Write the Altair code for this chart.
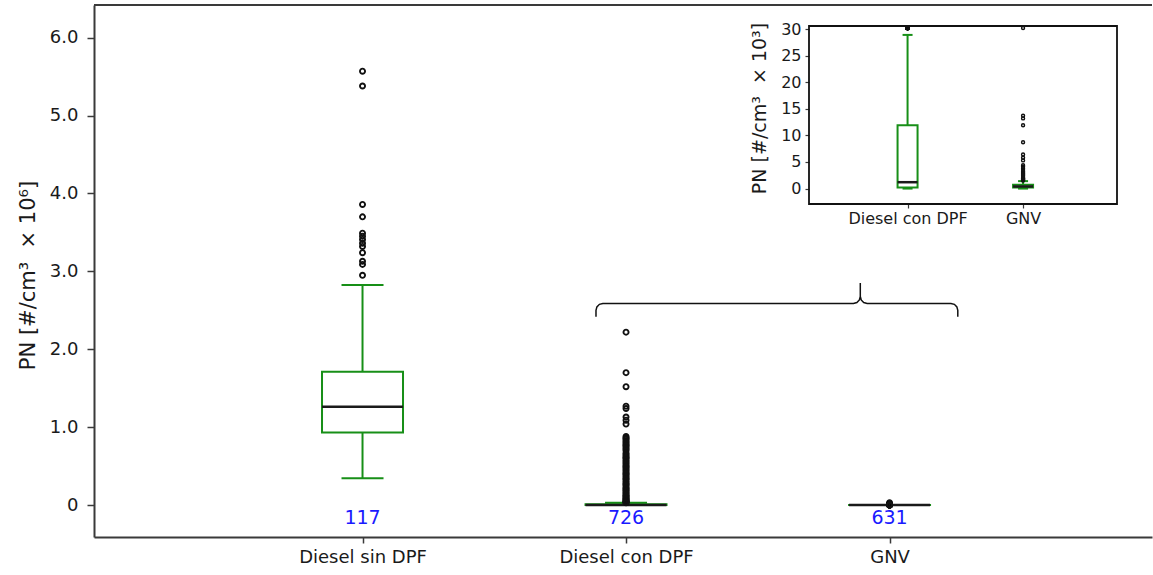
import altair as alt
import pandas as pd

FONT = "DejaVu Sans"
GREEN = "#178f17"
INK = "#1a1a1a"
SPINE = "#3a3a3a"
BLUE = "#1a1aff"

# ---------------------------------------------------------------- data
categories = ["Diesel sin DPF", "Diesel con DPF", "GNV"]
positions = [1, 2, 3]
sample_counts = ["117", "726", "631"]

# box-plot summaries, PN in 10^6 #/cm3
whisker_low = [0.343, 0.0, 0.0]
quartile_1 = [0.933, 0.0002, 0.0002]
medians = [1.262, 0.0012, 0.0004]
quartile_3 = [1.711, 0.0119, 0.0007]
whisker_high = [2.824, 0.0289, 0.0014]

# outliers, PN in 10^6 #/cm3
outliers_sin_dpf = [5.57, 5.38, 3.86, 3.70, 3.49, 3.45, 3.41, 3.36, 3.32,
                    3.24, 3.13, 3.09, 2.95]
outliers_con_dpf = [2.22, 1.70, 1.52, 1.27, 1.24, 1.13, 1.09, 1.04,
                    0.88, 0.86, 0.85, 0.83, 0.81, 0.79, 0.77, 0.76, 0.74,
                    0.72, 0.70, 0.67, 0.65, 0.63, 0.61, 0.60, 0.58, 0.56,
                    0.54, 0.52, 0.50, 0.49, 0.47, 0.45, 0.43, 0.41, 0.40,
                    0.38, 0.36, 0.34, 0.33, 0.31, 0.29, 0.27, 0.26, 0.24,
                    0.22, 0.21, 0.19, 0.18, 0.16, 0.15, 0.13, 0.12, 0.11,
                    0.095, 0.085, 0.075, 0.065, 0.055, 0.048, 0.042, 0.037,
                    0.033, 0.0304]
# outliers, PN in 10^3 #/cm3
outliers_gnv = [30.4, 13.7, 13.2, 11.9, 8.7, 6.4, 5.8, 5.3, 4.4, 4.1, 3.8,
                3.5, 3.2, 3.0, 2.8, 2.6, 2.4, 2.2, 2.0, 1.9, 1.8, 1.7, 1.6,
                1.5]

# curly bracket grouping the two low-emission categories (main-axis units)
brace_x = [1.886, 1.886, 1.8895, 1.899, 1.912, 2.863, 2.876, 2.8855, 2.889,
           2.889, 2.889, 2.8925, 2.902, 2.915, 3.233, 3.246, 3.2555, 3.259,
           3.259]
brace_y = [2.417, 2.500, 2.5445, 2.577, 2.589, 2.589, 2.601, 2.6335, 2.678,
           2.850, 2.678, 2.6335, 2.601, 2.589, 2.589, 2.577, 2.5445, 2.500,
           2.417]

# ---------------------------------------------------------------- tables
box_main = pd.DataFrame({
    "pos": positions, "cat": categories, "n": sample_counts,
    "lo": whisker_low, "q1": quartile_1, "med": medians,
    "q3": quartile_3, "hi": whisker_high,
})
fliers_main = pd.DataFrame({
    "pos": [1] * len(outliers_sin_dpf) + [2] * len(outliers_con_dpf)
           + [3] * len(outliers_gnv),
    "v": outliers_sin_dpf + outliers_con_dpf + [g / 1000 for g in outliers_gnv],
})
brace_df = pd.DataFrame({"i": list(range(len(brace_x))), "bx": brace_x, "by": brace_y})

# zoomed panel in 10^3 #/cm3 for the two filtered categories
inset_categories = categories[1:]
inset_positions = [1, 2]
box_inset = pd.DataFrame({
    "pos": inset_positions, "cat": inset_categories,
    "lo": [v * 1000 for v in whisker_low[1:]],
    "q1": [v * 1000 for v in quartile_1[1:]],
    "med": [v * 1000 for v in medians[1:]],
    "q3": [v * 1000 for v in quartile_3[1:]],
    "hi": [v * 1000 for v in whisker_high[1:]],
})
fliers_inset = pd.DataFrame({
    "pos": [1] * len(outliers_con_dpf) + [2] * len(outliers_gnv),
    "v": [v * 1000 for v in outliers_con_dpf] + outliers_gnv,
})
one_row = pd.DataFrame({"k": [0]})


def label_expr(pos, names):
    expr = "'" + names[-1] + "'"
    for p, c in reversed(list(zip(pos[:-1], names[:-1]))):
        expr = f"datum.value == {p} ? '{c}' : " + expr
    return expr


# ---------------------------------------------------------------- layout
W, H = 1058, 532
INSET_X = [715, 1023]          # inset frame, pixels inside the plot area
INSET_TOP, INSET_BOTTOM = 21, 199

axis_common = dict(grid=False, labelFont=FONT, titleFont=FONT,
                   labelColor=INK, titleColor=INK, tickColor=SPINE,
                   domainColor=SPINE, titleFontWeight="normal",
                   labelFlush=False, labelOverlap=False)

main_x_scale = alt.Scale(domain=[0, 3.977], nice=False, zero=False)
main_y_scale = alt.Scale(domain=[-0.41, 6.42], nice=False, zero=False)
main_x_axis = alt.Axis(values=positions, labelExpr=label_expr(positions, categories),
                       title=None, domainWidth=2, tickWidth=1.5, tickSize=6,
                       labelFontSize=18, labelPadding=5, **axis_common)
main_y_axis = alt.Axis(values=[0, 1, 2, 3, 4, 5, 6],
                       labelExpr="datum.value == 0 ? '0' : format(datum.value, '.1f')",
                       title="PN [#/cm³\u00a0 × 10⁶]", titleFontSize=21,
                       titleAngle=270, titleAlign="center", titleBaseline="middle",
                       titleX=-66, titleY=270, domainWidth=2, tickWidth=1.5,
                       tickSize=7, labelFontSize=18, labelPadding=9, **axis_common)

inset_x_scale = alt.Scale(domain=[0.19, 2.77], range=INSET_X, nice=False, zero=False)
inset_y_scale = alt.Scale(domain=[-2.9, 30.2], range=[INSET_BOTTOM, INSET_TOP + 2],
                          nice=False, zero=False, clamp=True)
inset_x_axis = alt.Axis(orient="bottom", offset=INSET_BOTTOM - H, values=inset_positions,
                        labelExpr=label_expr(inset_positions, inset_categories),
                        title=None, domain=False, tickWidth=1.2, tickSize=4,
                        labelFontSize=16, labelPadding=2, **axis_common)
inset_y_axis = alt.Axis(orient="left", offset=-INSET_X[0], values=[0, 5, 10, 15, 20, 25, 30],
                        title="PN [#/cm³\u00a0 × 10³]", titleFontSize=19,
                        titleAngle=270, titleAlign="center", titleBaseline="middle",
                        titleX=-50, titleY=103, domain=False, tickWidth=1.2,
                        tickSize=4, labelFontSize=16, labelPadding=4, **axis_common)


def mx(f):
    return alt.X(f"{f}:Q", scale=main_x_scale, axis=main_x_axis)


def my(f):
    return alt.Y(f"{f}:Q", scale=main_y_scale, axis=main_y_axis)


def ix(f):
    return alt.X(f"{f}:Q", scale=inset_x_scale, axis=inset_x_axis)


def iy(f):
    return alt.Y(f"{f}:Q", scale=inset_y_scale, axis=inset_y_axis)


def box_layers(df, fl, X, Y, box_w, cap_w, pt_size, pt_stroke):
    whisk = alt.Chart(df).mark_rule(color=GREEN, strokeWidth=2).encode(
        x=X("pos"), y=Y("lo"), y2="hi")
    cap_lo = alt.Chart(df).mark_tick(orient="horizontal", size=cap_w, thickness=2,
                                     color=GREEN, opacity=1).encode(x=X("pos"), y=Y("lo"))
    cap_hi = alt.Chart(df).mark_tick(orient="horizontal", size=cap_w, thickness=2,
                                     color=GREEN, opacity=1).encode(x=X("pos"), y=Y("hi"))
    box = alt.Chart(df).mark_bar(fill="white", stroke=GREEN, strokeWidth=2,
                                 size=box_w).encode(x=X("pos"), y=Y("q1"), y2="q3")
    med = alt.Chart(df).mark_tick(orient="horizontal", size=box_w, thickness=2.5,
                                  color=INK, opacity=1).encode(x=X("pos"), y=Y("med"))
    pts = alt.Chart(fl).mark_point(shape="circle", filled=False, size=pt_size,
                                   strokeWidth=pt_stroke, color="#111111",
                                   opacity=1).encode(x=X("pos"), y=Y("v"))
    return [whisk, cap_lo, cap_hi, box, med, pts]


main_layers = box_layers(box_main, fliers_main, mx, my, 81, 42, 26, 1.9)
counts = alt.Chart(box_main).mark_text(color=BLUE, fontSize=19, font=FONT,
                                       baseline="middle").encode(
    x=mx("pos"), y=alt.datum(-0.167), text="n:N")
brace = alt.Chart(brace_df).mark_line(color="#111111", strokeWidth=1.5).encode(
    x=mx("bx"), y=my("by"), order="i:Q")
top_spine = alt.Chart(one_row).mark_rule(color=SPINE, strokeWidth=2).encode(
    y=alt.value(0))
main = alt.layer(*main_layers, counts, brace, top_spine)

inset_layers = box_layers(box_inset, fliers_inset, ix, iy, 20, 10, 9, 1.4)
frame = alt.Chart(one_row).mark_rect(fillOpacity=0, stroke="#111111",
                                     strokeWidth=1.8).encode(
    x=alt.value(INSET_X[0]), x2=alt.value(INSET_X[1]),
    y=alt.value(INSET_TOP), y2=alt.value(INSET_BOTTOM))
inset = alt.layer(*inset_layers, frame)

chart = (
    alt.layer(main, inset)
    .resolve_scale(x="independent", y="independent")
    .resolve_axis(x="independent", y="independent")
    .properties(width=W, height=H,
                autosize=alt.AutoSizeParams(type="none"),
                padding={"left": 94, "top": 5, "right": 1, "bottom": 38},
                background="white")
    .configure_view(stroke=None)
)

chart.save("out.html", embed_options={"renderer": "svg", "actions": False})
